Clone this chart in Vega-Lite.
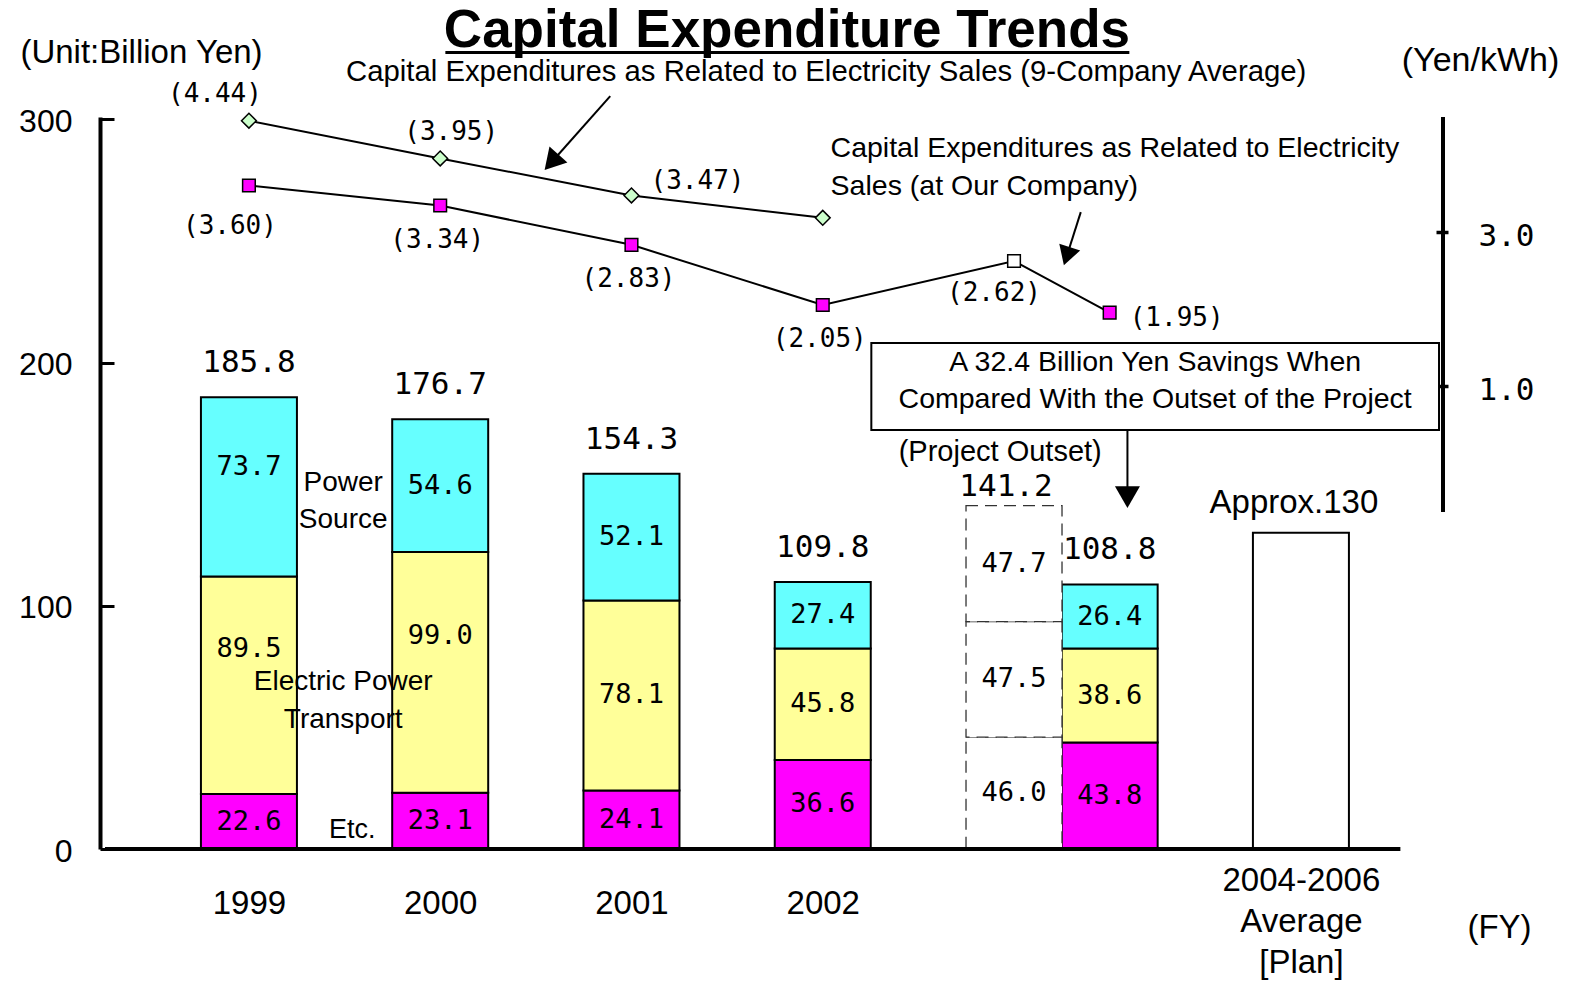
{
"$schema":"https://vega.github.io/schema/vega-lite/v6.json",
"width":1348,"height":732,
"autosize":{"type":"none"},
"padding":{"left":100,"top":117,"right":124,"bottom":134},
"background":"white",
"config":{"view":{"stroke":null},"text":{"font":"Liberation Sans","color":"black"},"axis":{"grid":false,"labelColor":"black","titleColor":"black","domainColor":"black","tickColor":"black"}},
"datasets":{
"segments":[
{"period":"1999","pos":0,"part":"Etc.","k":1,"value":22.6},
{"period":"1999","pos":0,"part":"Electric Power Transport","k":2,"value":89.5},
{"period":"1999","pos":0,"part":"Power Source","k":3,"value":73.7},
{"period":"2000","pos":1,"part":"Etc.","k":1,"value":23.1},
{"period":"2000","pos":1,"part":"Electric Power Transport","k":2,"value":99.0},
{"period":"2000","pos":1,"part":"Power Source","k":3,"value":54.6},
{"period":"2001","pos":2,"part":"Etc.","k":1,"value":24.1},
{"period":"2001","pos":2,"part":"Electric Power Transport","k":2,"value":78.1},
{"period":"2001","pos":2,"part":"Power Source","k":3,"value":52.1},
{"period":"2002","pos":3,"part":"Etc.","k":1,"value":36.6},
{"period":"2002","pos":3,"part":"Electric Power Transport","k":2,"value":45.8},
{"period":"2002","pos":3,"part":"Power Source","k":3,"value":27.4},
{"period":"Project Outset","pos":4,"part":"Etc.","k":1,"value":46.0},
{"period":"Project Outset","pos":4,"part":"Electric Power Transport","k":2,"value":47.5},
{"period":"Project Outset","pos":4,"part":"Power Source","k":3,"value":47.7},
{"period":"2003","pos":4.5,"part":"Etc.","k":1,"value":43.8},
{"period":"2003","pos":4.5,"part":"Electric Power Transport","k":2,"value":38.6},
{"period":"2003","pos":4.5,"part":"Power Source","k":3,"value":26.4},
{"period":"2004-2006 Average [Plan]","pos":5.5,"part":"Plan","k":1,"value":130}
],
"totals":[
{"pos":0,"total":185.8,"label":"185.8"},
{"pos":1,"total":176.7,"label":"176.7"},
{"pos":2,"total":154.3,"label":"154.3"},
{"pos":3,"total":109.8,"label":"109.8"},
{"pos":4,"total":141.2,"label":"141.2"},
{"pos":4.5,"total":108.8,"label":"108.8"},
{"pos":5.5,"total":130,"label":"Approx.130"}
],
"rates":[
{"series":"9co","pos":0,"rate":4.44,"label":"(4.44)"},
{"series":"9co","pos":1,"rate":3.95,"label":"(3.95)"},
{"series":"9co","pos":2,"rate":3.47,"label":"(3.47)"},
{"series":"9co","pos":3,"rate":3.18,"label":""},
{"series":"ours","pos":0,"rate":3.60,"label":"(3.60)"},
{"series":"ours","pos":1,"rate":3.34,"label":"(3.34)"},
{"series":"ours","pos":2,"rate":2.83,"label":"(2.83)"},
{"series":"ours","pos":3,"rate":2.05,"label":"(2.05)"},
{"series":"ours","pos":4,"rate":2.62,"label":"(2.62)"},
{"series":"ours","pos":4.5,"rate":1.95,"label":"(1.95)"}
]
},
"layer":[
{
"layer":[
{"data":{"name":"segments"},"transform":[{"filter":"datum.period != 'Project Outset'"}],
 "mark":{"type":"bar","orient":"vertical","size":96,"stroke":"black","strokeWidth":2},
 "encoding":{
  "x":{"field":"pos","type":"quantitative","scale":{"domain":[-0.7525,6.2428],"nice":false,"zero":false},
   "axis":{"values":[0,1,2,3,5.5],"labelExpr":"datum.value == 5.5 ? ['2004-2006','Average','[Plan]'] : '' + (1999 + datum.value)","domain":false,"ticks":false,"grid":false,"labelFont":"Liberation Sans","labelFontSize":33,"labelColor":"black","labelLineHeight":41,"labelBaseline":"middle","labelPadding":{"condition":{"test":"datum.value == 5.5","value":31},"value":54},"labelFlush":false,"labelOverlap":false,"title":"(FY)","titleX":1399,"titleY":78,"titleAlign":"center","titleBaseline":"middle","titleFont":"Liberation Sans","titleFontSize":33,"titleFontWeight":"normal","titleColor":"black"}},
  "y":{"field":"value","type":"quantitative","stack":"zero","scale":{"domain":[0,301],"nice":false,"zero":false},
   "axis":{"values":[0,100,200,300],"domain":true,"domainWidth":4,"domainColor":"black","ticks":true,"tickSize":-14,"tickWidth":3,"tickColor":"black","labelPadding":42,"labelOffset":2,"labelFont":"Liberation Sans","labelFontSize":32,"labelColor":"black","grid":false,"labelFlush":false,"labelOverlap":false,"title":"(Unit:Billion Yen)","titleAngle":0,"titleX":41,"titleY":-65,"titleAlign":"center","titleBaseline":"middle","titleFont":"Liberation Sans","titleFontSize":33,"titleFontWeight":"normal","titleColor":"black"}},
  "color":{"field":"part","type":"nominal","scale":{"domain":["Etc.","Electric Power Transport","Power Source","Plan"],"range":["#FF00FF","#FFFF99","#66FFFF","#FFFFFF"]},"legend":null},
  "order":{"field":"k","type":"quantitative"}
 }},
{"data":{"name":"segments"},"transform":[{"filter":"datum.period == 'Project Outset'"}],
 "mark":{"type":"bar","orient":"vertical","size":96,"fill":"white","stroke":"#333333","strokeWidth":1.3,"strokeDash":[12,7]},
 "encoding":{
  "x":{"field":"pos","type":"quantitative","scale":{"domain":[-0.7525,6.2428],"nice":false,"zero":false}},
  "y":{"field":"value","type":"quantitative","stack":"zero","scale":{"domain":[0,301],"nice":false,"zero":false}},
  "detail":{"field":"part"},
  "order":{"field":"k","type":"quantitative"}
 }},
{"data":{"values":[{}]},
 "mark":{"type":"rule","strokeWidth":4,"color":"black"},
 "encoding":{
  "x":{"datum":-0.7525,"type":"quantitative","scale":{"domain":[-0.7525,6.2428],"nice":false,"zero":false}},
  "x2":{"datum":6.02},
  "y":{"datum":0,"type":"quantitative","scale":{"domain":[0,301],"nice":false,"zero":false}}
 }},
{"data":{"name":"segments"},
 "mark":{"type":"text","font":"DejaVu Sans Mono","fontSize":27},
 "encoding":{
  "x":{"field":"pos","type":"quantitative","scale":{"domain":[-0.7525,6.2428],"nice":false,"zero":false}},
  "y":{"field":"value","type":"quantitative","stack":"zero","bandPosition":0.5,"scale":{"domain":[0,301],"nice":false,"zero":false}},
  "detail":{"field":"part"},
  "order":{"field":"k","type":"quantitative"},
  "text":{"condition":{"test":"datum.part == 'Plan' || (datum.period == '1999' && datum.part == 'Power Source') || ((datum.period == '1999' || datum.period == '2000') && datum.part == 'Electric Power Transport')","value":""},"field":"value","type":"quantitative","format":".1f"}
 }},
{"data":{"name":"segments"},
 "mark":{"type":"text","font":"DejaVu Sans Mono","fontSize":27,"dy":-20},
 "encoding":{
  "x":{"field":"pos","type":"quantitative","scale":{"domain":[-0.7525,6.2428],"nice":false,"zero":false}},
  "y":{"field":"value","type":"quantitative","stack":"zero","bandPosition":0.5,"scale":{"domain":[0,301],"nice":false,"zero":false}},
  "detail":{"field":"part"},
  "order":{"field":"k","type":"quantitative"},
  "text":{"condition":{"test":"!(datum.period == '1999' && datum.part == 'Power Source')","value":""},"field":"value","type":"quantitative","format":".1f"}
 }},
{"data":{"name":"segments"},
 "mark":{"type":"text","font":"DejaVu Sans Mono","fontSize":27,"dy":-36},
 "encoding":{
  "x":{"field":"pos","type":"quantitative","scale":{"domain":[-0.7525,6.2428],"nice":false,"zero":false}},
  "y":{"field":"value","type":"quantitative","stack":"zero","bandPosition":0.5,"scale":{"domain":[0,301],"nice":false,"zero":false}},
  "detail":{"field":"part"},
  "order":{"field":"k","type":"quantitative"},
  "text":{"condition":{"test":"!((datum.period == '1999' || datum.period == '2000') && datum.part == 'Electric Power Transport')","value":""},"field":"value","type":"quantitative","format":".1f"}
 }},
{"data":{"name":"totals"},"transform":[{"filter":"datum.pos < 4 || datum.pos == 4.5"}],
 "mark":{"type":"text","font":"DejaVu Sans Mono","fontSize":31,"dy":-34},
 "encoding":{
  "x":{"field":"pos","type":"quantitative","scale":{"domain":[-0.7525,6.2428],"nice":false,"zero":false}},
  "y":{"field":"total","type":"quantitative","scale":{"domain":[0,301],"nice":false,"zero":false}},
  "text":{"field":"label"}
 }},
{"data":{"name":"totals"},"transform":[{"filter":"datum.pos == 4"}],
 "mark":{"type":"text","font":"DejaVu Sans Mono","fontSize":31,"dx":-8,"dy":-19},
 "encoding":{
  "x":{"field":"pos","type":"quantitative","scale":{"domain":[-0.7525,6.2428],"nice":false,"zero":false}},
  "y":{"field":"total","type":"quantitative","scale":{"domain":[0,301],"nice":false,"zero":false}},
  "text":{"field":"label"}
 }},
{"data":{"name":"totals"},"transform":[{"filter":"datum.pos == 5.5"}],
 "mark":{"type":"text","font":"Liberation Sans","fontSize":33,"dx":-7,"dy":-30},
 "encoding":{
  "x":{"field":"pos","type":"quantitative","scale":{"domain":[-0.7525,6.2428],"nice":false,"zero":false}},
  "y":{"field":"total","type":"quantitative","scale":{"domain":[0,301],"nice":false,"zero":false}},
  "text":{"field":"label"}
 }},
{"data":{"values":[{}]},
 "mark":{"type":"text","text":"Capital Expenditure Trends","font":"Liberation Sans","fontWeight":"bold","fontSize":53,"baseline":"alphabetic"},
 "encoding":{
  "x":{"datum":2.813,"type":"quantitative","scale":{"domain":[-0.7525,6.2428],"nice":false,"zero":false}},
  "y":{"datum":329.8,"type":"quantitative","scale":{"domain":[0,301],"nice":false,"zero":false}}
 }},
{"data":{"values":[{}]},
 "mark":{"type":"rule","strokeWidth":3,"color":"black"},
 "encoding":{
  "x":{"datum":1.027,"type":"quantitative","scale":{"domain":[-0.7525,6.2428],"nice":false,"zero":false}},
  "x2":{"datum":4.603},
  "y":{"datum":327.5,"type":"quantitative","scale":{"domain":[0,301],"nice":false,"zero":false}}
 }},
{"data":{"values":[{}]},
 "mark":{"type":"text","text":"Capital Expenditures as Related to Electricity Sales (9-Company Average)","font":"Liberation Sans","fontSize":29.3},
 "encoding":{
  "x":{"datum":3.018,"type":"quantitative","scale":{"domain":[-0.7525,6.2428],"nice":false,"zero":false}},
  "y":{"datum":319.5,"type":"quantitative","scale":{"domain":[0,301],"nice":false,"zero":false}}
 }},
{"data":{"values":[{}]},
 "mark":{"type":"text","text":["Power","Source"],"lineHeight":37,"font":"Liberation Sans","fontSize":28},
 "encoding":{
  "x":{"datum":0.493,"type":"quantitative","scale":{"domain":[-0.7525,6.2428],"nice":false,"zero":false}},
  "y":{"datum":150.6,"type":"quantitative","scale":{"domain":[0,301],"nice":false,"zero":false}}
 }},
{"data":{"values":[{}]},
 "mark":{"type":"text","text":["Electric Power","Transport"],"lineHeight":38,"font":"Liberation Sans","fontSize":28},
 "encoding":{
  "x":{"datum":0.493,"type":"quantitative","scale":{"domain":[-0.7525,6.2428],"nice":false,"zero":false}},
  "y":{"datum":68.8,"type":"quantitative","scale":{"domain":[0,301],"nice":false,"zero":false}}
 }},
{"data":{"values":[{}]},
 "mark":{"type":"text","text":"Etc.","font":"Liberation Sans","fontSize":27},
 "encoding":{
  "x":{"datum":0.54,"type":"quantitative","scale":{"domain":[-0.7525,6.2428],"nice":false,"zero":false}},
  "y":{"datum":7.8,"type":"quantitative","scale":{"domain":[0,301],"nice":false,"zero":false}}
 }},
{"data":{"values":[{}]},
 "mark":{"type":"rect","fill":"white","stroke":"black","strokeWidth":2},
 "encoding":{
  "x":{"datum":3.254,"type":"quantitative","scale":{"domain":[-0.7525,6.2428],"nice":false,"zero":false}},
  "x2":{"datum":6.222},
  "y":{"datum":172.3,"type":"quantitative","scale":{"domain":[0,301],"nice":false,"zero":false}},
  "y2":{"datum":208.1}
 }},
{"data":{"values":[{}]},
 "mark":{"type":"text","text":["A 32.4 Billion Yen Savings When","Compared With the Outset of the Project"],"lineHeight":37,"font":"Liberation Sans","fontSize":28.5},
 "encoding":{
  "x":{"datum":4.738,"type":"quantitative","scale":{"domain":[-0.7525,6.2428],"nice":false,"zero":false}},
  "y":{"datum":200.2,"type":"quantitative","scale":{"domain":[0,301],"nice":false,"zero":false}}
 }},
{"data":{"values":[{}]},
 "mark":{"type":"text","text":"(Project Outset)","font":"Liberation Sans","fontSize":29},
 "encoding":{
  "x":{"datum":3.928,"type":"quantitative","scale":{"domain":[-0.7525,6.2428],"nice":false,"zero":false}},
  "y":{"datum":163.4,"type":"quantitative","scale":{"domain":[0,301],"nice":false,"zero":false}}
 }},
{"data":{"values":[{}]},
 "mark":{"type":"rule","strokeWidth":2,"color":"black"},
 "encoding":{
  "x":{"datum":4.593,"type":"quantitative","scale":{"domain":[-0.7525,6.2428],"nice":false,"zero":false}},
  "y":{"datum":172.3,"type":"quantitative","scale":{"domain":[0,301],"nice":false,"zero":false}},
  "y2":{"datum":146}
 }},
{"data":{"values":[{}]},
 "mark":{"type":"point","shape":"triangle-down","filled":true,"color":"black","opacity":1,"size":625},
 "encoding":{
  "x":{"datum":4.593,"type":"quantitative","scale":{"domain":[-0.7525,6.2428],"nice":false,"zero":false}},
  "y":{"datum":144.7,"type":"quantitative","scale":{"domain":[0,301],"nice":false,"zero":false}}
 }},
{"data":{"values":[{}]},
 "mark":{"type":"rule","strokeWidth":2,"color":"black"},
 "encoding":{
  "x":{"datum":1.889,"type":"quantitative","scale":{"domain":[-0.7525,6.2428],"nice":false,"zero":false}},
  "x2":{"datum":1.582},
  "y":{"datum":309.6,"type":"quantitative","scale":{"domain":[0,301],"nice":false,"zero":false}},
  "y2":{"datum":282.4}
 }},
{"data":{"values":[{}]},
 "mark":{"type":"point","shape":"triangle-up","angle":221.7,"filled":true,"color":"black","opacity":1,"size":576},
 "encoding":{
  "x":{"datum":1.582,"type":"quantitative","scale":{"domain":[-0.7525,6.2428],"nice":false,"zero":false}},
  "y":{"datum":282.4,"type":"quantitative","scale":{"domain":[0,301],"nice":false,"zero":false}}
 }},
{"data":{"values":[{}]},
 "mark":{"type":"rule","strokeWidth":2,"color":"black"},
 "encoding":{
  "x":{"datum":4.349,"type":"quantitative","scale":{"domain":[-0.7525,6.2428],"nice":false,"zero":false}},
  "x2":{"datum":4.276},
  "y":{"datum":261.9,"type":"quantitative","scale":{"domain":[0,301],"nice":false,"zero":false}},
  "y2":{"datum":243.8}
 }},
{"data":{"values":[{}]},
 "mark":{"type":"point","shape":"triangle-up","angle":198,"filled":true,"color":"black","opacity":1,"size":484},
 "encoding":{
  "x":{"datum":4.276,"type":"quantitative","scale":{"domain":[-0.7525,6.2428],"nice":false,"zero":false}},
  "y":{"datum":243.8,"type":"quantitative","scale":{"domain":[0,301],"nice":false,"zero":false}}
 }},
{"data":{"values":[{}]},
 "mark":{"type":"text","text":["Capital Expenditures as Related to Electricity","Sales (at Our Company)"],"lineHeight":38,"align":"left","font":"Liberation Sans","fontSize":28.5},
 "encoding":{
  "x":{"datum":3.041,"type":"quantitative","scale":{"domain":[-0.7525,6.2428],"nice":false,"zero":false}},
  "y":{"datum":288.2,"type":"quantitative","scale":{"domain":[0,301],"nice":false,"zero":false}}
 }}
]
},
{
"layer":[
{"data":{"values":[{}]},
 "mark":{"type":"rule","strokeWidth":4,"color":"black"},
 "encoding":{
  "x":{"datum":6.2428,"type":"quantitative","scale":{"domain":[-0.7525,6.2428],"nice":false,"zero":false}},
  "y":{"datum":-0.636,"type":"quantitative","scale":{"domain":[-5.006,4.488],"nice":false,"zero":false}},
  "y2":{"datum":4.488}
 }},
{"data":{"name":"rates"},
 "mark":{"type":"line","color":"black","strokeWidth":2},
 "encoding":{
  "x":{"field":"pos","type":"quantitative","scale":{"domain":[-0.7525,6.2428],"nice":false,"zero":false}},
  "y":{"field":"rate","type":"quantitative","scale":{"domain":[-5.006,4.488],"nice":false,"zero":false},
   "axis":{"values":[1,3],"format":".1f","domain":false,"ticks":true,"tickSize":-12,"tickWidth":3.5,"tickColor":"black","labelPadding":42,"labelOffset":5,"labelFont":"DejaVu Sans Mono","labelFontSize":31,"labelColor":"black","grid":false,"labelFlush":false,"title":"(Yen/kWh)","titleAngle":0,"titleX":32,"titleY":-57,"titleAlign":"center","titleBaseline":"middle","titleFont":"Liberation Sans","titleFontSize":34,"titleFontWeight":"normal","titleColor":"black"}},
  "detail":{"field":"series"}
 }},
{"data":{"name":"rates"},"transform":[{"filter":"datum.series == '9co'"}],
 "mark":{"type":"point","shape":"diamond","filled":true,"fill":"#CCFFCC","stroke":"black","strokeWidth":1.5,"size":220,"opacity":1},
 "encoding":{
  "x":{"field":"pos","type":"quantitative","scale":{"domain":[-0.7525,6.2428],"nice":false,"zero":false}},
  "y":{"field":"rate","type":"quantitative","scale":{"domain":[-5.006,4.488],"nice":false,"zero":false}}
 }},
{"data":{"name":"rates"},"transform":[{"filter":"datum.series == 'ours'"}],
 "mark":{"type":"square","stroke":"black","strokeWidth":1.5,"size":160,"opacity":1},
 "encoding":{
  "x":{"field":"pos","type":"quantitative","scale":{"domain":[-0.7525,6.2428],"nice":false,"zero":false}},
  "y":{"field":"rate","type":"quantitative","scale":{"domain":[-5.006,4.488],"nice":false,"zero":false}},
  "fill":{"condition":{"test":"datum.pos == 4","value":"white"},"value":"#FF00FF"}
 }},
{"data":{"name":"rates"},"transform":[{"filter":"datum.series == '9co' && datum.pos == 0"}],
 "mark":{"type":"text","font":"DejaVu Sans Mono","fontSize":26,"dx":-34,"dy":-27},
 "encoding":{
  "x":{"field":"pos","type":"quantitative","scale":{"domain":[-0.7525,6.2428],"nice":false,"zero":false}},
  "y":{"field":"rate","type":"quantitative","scale":{"domain":[-5.006,4.488],"nice":false,"zero":false}},
  "text":{"field":"label"}
 }},
{"data":{"name":"rates"},"transform":[{"filter":"datum.series == '9co' && datum.pos == 1"}],
 "mark":{"type":"text","font":"DejaVu Sans Mono","fontSize":26,"dx":11,"dy":-26},
 "encoding":{
  "x":{"field":"pos","type":"quantitative","scale":{"domain":[-0.7525,6.2428],"nice":false,"zero":false}},
  "y":{"field":"rate","type":"quantitative","scale":{"domain":[-5.006,4.488],"nice":false,"zero":false}},
  "text":{"field":"label"}
 }},
{"data":{"name":"rates"},"transform":[{"filter":"datum.series == '9co' && datum.pos == 2"}],
 "mark":{"type":"text","font":"DejaVu Sans Mono","fontSize":26,"dx":66,"dy":-14},
 "encoding":{
  "x":{"field":"pos","type":"quantitative","scale":{"domain":[-0.7525,6.2428],"nice":false,"zero":false}},
  "y":{"field":"rate","type":"quantitative","scale":{"domain":[-5.006,4.488],"nice":false,"zero":false}},
  "text":{"field":"label"}
 }},
{"data":{"name":"rates"},"transform":[{"filter":"datum.series == 'ours' && datum.pos == 0"}],
 "mark":{"type":"text","font":"DejaVu Sans Mono","fontSize":26,"dx":-19,"dy":41},
 "encoding":{
  "x":{"field":"pos","type":"quantitative","scale":{"domain":[-0.7525,6.2428],"nice":false,"zero":false}},
  "y":{"field":"rate","type":"quantitative","scale":{"domain":[-5.006,4.488],"nice":false,"zero":false}},
  "text":{"field":"label"}
 }},
{"data":{"name":"rates"},"transform":[{"filter":"datum.series == 'ours' && datum.pos >= 1 && datum.pos <= 3"}],
 "mark":{"type":"text","font":"DejaVu Sans Mono","fontSize":26,"dx":-3,"dy":34},
 "encoding":{
  "x":{"field":"pos","type":"quantitative","scale":{"domain":[-0.7525,6.2428],"nice":false,"zero":false}},
  "y":{"field":"rate","type":"quantitative","scale":{"domain":[-5.006,4.488],"nice":false,"zero":false}},
  "text":{"field":"label"}
 }},
{"data":{"name":"rates"},"transform":[{"filter":"datum.series == 'ours' && datum.pos == 4"}],
 "mark":{"type":"text","font":"DejaVu Sans Mono","fontSize":26,"dx":-20,"dy":32},
 "encoding":{
  "x":{"field":"pos","type":"quantitative","scale":{"domain":[-0.7525,6.2428],"nice":false,"zero":false}},
  "y":{"field":"rate","type":"quantitative","scale":{"domain":[-5.006,4.488],"nice":false,"zero":false}},
  "text":{"field":"label"}
 }},
{"data":{"name":"rates"},"transform":[{"filter":"datum.series == 'ours' && datum.pos == 4.5"}],
 "mark":{"type":"text","font":"DejaVu Sans Mono","fontSize":26,"dx":67,"dy":5},
 "encoding":{
  "x":{"field":"pos","type":"quantitative","scale":{"domain":[-0.7525,6.2428],"nice":false,"zero":false}},
  "y":{"field":"rate","type":"quantitative","scale":{"domain":[-5.006,4.488],"nice":false,"zero":false}},
  "text":{"field":"label"}
 }}
]
}
],
"resolve":{"scale":{"y":"independent"}}
}
